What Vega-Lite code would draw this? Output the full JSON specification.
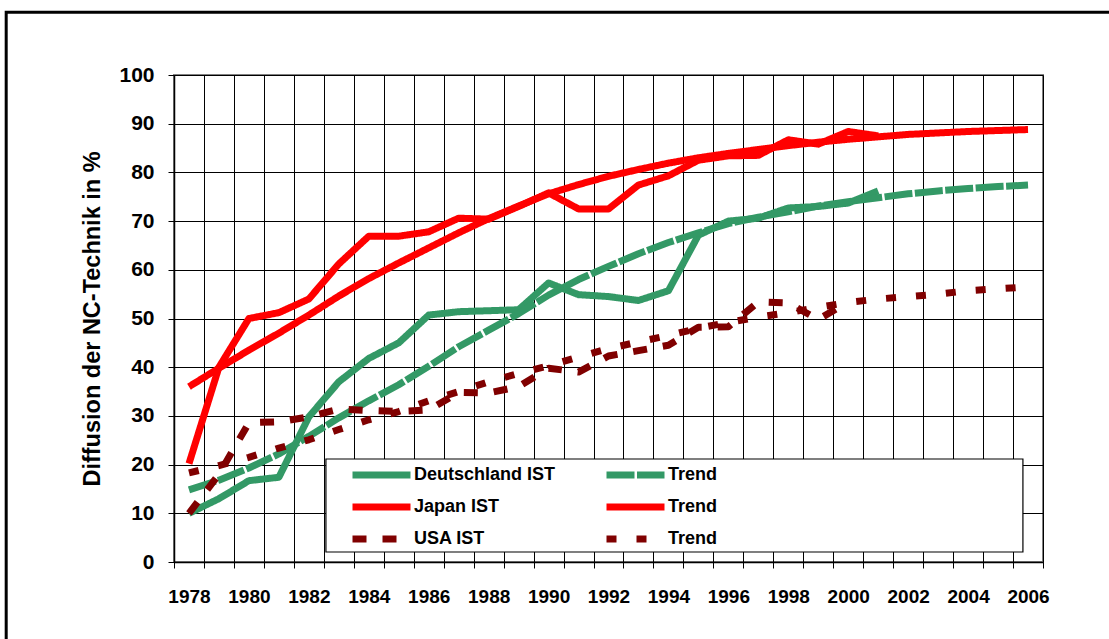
{
  "$schema": "https://vega.github.io/schema/vega-lite/v6.json",
  "width": 869,
  "height": 487,
  "autosize": {"type": "none"},
  "padding": {"left": 174, "top": 75, "right": 66, "bottom": 77},
  "background": "white",
  "config": {
    "view": {"stroke": "#808080", "strokeWidth": 2},
    "font": "Liberation Sans",
    "legend": {
      "orient": "none", "legendX": 175, "legendY": 382, "padding": 0,
      "columns": 2, "columnPadding": 36, "rowPadding": -1,
      "symbolType": "M-1,0H3", "symbolSize": 841,
      "labelFont": "Liberation Sans", "labelFontWeight": "bold", "labelFontSize": 18, "labelColor": "black",
      "labelOffset": 29, "labelLimit": 0
    }
  },
  "datasets": {
    "series": [
      {"year":1978,"series":"DE_IST","value":10},{"year":1979,"series":"DE_IST","value":13},{"year":1980,"series":"DE_IST","value":16.7},{"year":1981,"series":"DE_IST","value":17.4},{"year":1982,"series":"DE_IST","value":29.8},{"year":1983,"series":"DE_IST","value":37},{"year":1984,"series":"DE_IST","value":41.8},{"year":1985,"series":"DE_IST","value":45},{"year":1986,"series":"DE_IST","value":50.7},{"year":1987,"series":"DE_IST","value":51.4},{"year":1988,"series":"DE_IST","value":51.6},{"year":1989,"series":"DE_IST","value":51.8},{"year":1990,"series":"DE_IST","value":57.3},{"year":1991,"series":"DE_IST","value":54.9},{"year":1992,"series":"DE_IST","value":54.5},{"year":1993,"series":"DE_IST","value":53.7},{"year":1994,"series":"DE_IST","value":55.7},{"year":1995,"series":"DE_IST","value":67.1},{"year":1996,"series":"DE_IST","value":70},{"year":1997,"series":"DE_IST","value":70.6},{"year":1998,"series":"DE_IST","value":72.7},{"year":1999,"series":"DE_IST","value":73},{"year":2000,"series":"DE_IST","value":73.7},{"year":2001,"series":"DE_IST","value":76.2},
      {"year":1978,"series":"DE_Trend","value":14.8},{"year":1979,"series":"DE_Trend","value":16.8},{"year":1980,"series":"DE_Trend","value":19.3},{"year":1981,"series":"DE_Trend","value":22.2},{"year":1982,"series":"DE_Trend","value":25.8},{"year":1983,"series":"DE_Trend","value":29.6},{"year":1984,"series":"DE_Trend","value":33.1},{"year":1985,"series":"DE_Trend","value":36.4},{"year":1986,"series":"DE_Trend","value":40.2},{"year":1987,"series":"DE_Trend","value":44.2},{"year":1988,"series":"DE_Trend","value":47.6},{"year":1989,"series":"DE_Trend","value":51},{"year":1990,"series":"DE_Trend","value":54.8},{"year":1991,"series":"DE_Trend","value":58},{"year":1992,"series":"DE_Trend","value":60.7},{"year":1993,"series":"DE_Trend","value":63.3},{"year":1994,"series":"DE_Trend","value":65.6},{"year":1995,"series":"DE_Trend","value":67.6},{"year":1996,"series":"DE_Trend","value":69.5},{"year":1997,"series":"DE_Trend","value":70.8},{"year":1998,"series":"DE_Trend","value":71.9},{"year":1999,"series":"DE_Trend","value":73.1},{"year":2000,"series":"DE_Trend","value":74},{"year":2001,"series":"DE_Trend","value":74.8},{"year":2002,"series":"DE_Trend","value":75.6},{"year":2003,"series":"DE_Trend","value":76.2},{"year":2004,"series":"DE_Trend","value":76.7},{"year":2005,"series":"DE_Trend","value":77.1},{"year":2006,"series":"DE_Trend","value":77.4},
      {"year":1978,"series":"JP_IST","value":20.2},{"year":1979,"series":"JP_IST","value":40},{"year":1980,"series":"JP_IST","value":50},{"year":1981,"series":"JP_IST","value":51.2},{"year":1982,"series":"JP_IST","value":54},{"year":1983,"series":"JP_IST","value":61.2},{"year":1984,"series":"JP_IST","value":66.9},{"year":1985,"series":"JP_IST","value":66.9},{"year":1986,"series":"JP_IST","value":67.8},{"year":1987,"series":"JP_IST","value":70.6},{"year":1988,"series":"JP_IST","value":70.4},{"year":1989,"series":"JP_IST","value":73},{"year":1990,"series":"JP_IST","value":75.8},{"year":1991,"series":"JP_IST","value":72.5},{"year":1992,"series":"JP_IST","value":72.5},{"year":1993,"series":"JP_IST","value":77.4},{"year":1994,"series":"JP_IST","value":79.3},{"year":1995,"series":"JP_IST","value":82.5},{"year":1996,"series":"JP_IST","value":83.4},{"year":1997,"series":"JP_IST","value":83.5},{"year":1998,"series":"JP_IST","value":86.7},{"year":1999,"series":"JP_IST","value":85.8},{"year":2000,"series":"JP_IST","value":88.4},{"year":2001,"series":"JP_IST","value":87.5},
      {"year":1978,"series":"JP_Trend","value":36},{"year":1979,"series":"JP_Trend","value":39.8},{"year":1980,"series":"JP_Trend","value":43.5},{"year":1981,"series":"JP_Trend","value":47},{"year":1982,"series":"JP_Trend","value":50.7},{"year":1983,"series":"JP_Trend","value":54.6},{"year":1984,"series":"JP_Trend","value":58.2},{"year":1985,"series":"JP_Trend","value":61.4},{"year":1986,"series":"JP_Trend","value":64.5},{"year":1987,"series":"JP_Trend","value":67.6},{"year":1988,"series":"JP_Trend","value":70.5},{"year":1989,"series":"JP_Trend","value":73.1},{"year":1990,"series":"JP_Trend","value":75.6},{"year":1991,"series":"JP_Trend","value":77.5},{"year":1992,"series":"JP_Trend","value":79.2},{"year":1993,"series":"JP_Trend","value":80.6},{"year":1994,"series":"JP_Trend","value":81.9},{"year":1995,"series":"JP_Trend","value":83},{"year":1996,"series":"JP_Trend","value":83.9},{"year":1997,"series":"JP_Trend","value":84.7},{"year":1998,"series":"JP_Trend","value":85.5},{"year":1999,"series":"JP_Trend","value":86.2},{"year":2000,"series":"JP_Trend","value":86.8},{"year":2001,"series":"JP_Trend","value":87.3},{"year":2002,"series":"JP_Trend","value":87.8},{"year":2003,"series":"JP_Trend","value":88.1},{"year":2004,"series":"JP_Trend","value":88.4},{"year":2005,"series":"JP_Trend","value":88.6},{"year":2006,"series":"JP_Trend","value":88.8},
      {"year":1978,"series":"US_IST","value":10},{"year":1979,"series":"US_IST","value":18},{"year":1980,"series":"US_IST","value":28.6},{"year":1981,"series":"US_IST","value":28.8},{"year":1982,"series":"US_IST","value":29.8},{"year":1983,"series":"US_IST","value":31.4},{"year":1984,"series":"US_IST","value":31.1},{"year":1985,"series":"US_IST","value":30.9},{"year":1986,"series":"US_IST","value":31.2},{"year":1987,"series":"US_IST","value":34.8},{"year":1988,"series":"US_IST","value":34.7},{"year":1989,"series":"US_IST","value":36},{"year":1990,"series":"US_IST","value":39.8},{"year":1991,"series":"US_IST","value":39},{"year":1992,"series":"US_IST","value":42.3},{"year":1993,"series":"US_IST","value":43.4},{"year":1994,"series":"US_IST","value":44.5},{"year":1995,"series":"US_IST","value":48.2},{"year":1996,"series":"US_IST","value":48.3},{"year":1997,"series":"US_IST","value":53.4},{"year":1998,"series":"US_IST","value":53.2},{"year":1999,"series":"US_IST","value":49.8},{"year":2000,"series":"US_IST","value":53.4},
      {"year":1978,"series":"US_Trend","value":18.3},{"year":1979,"series":"US_Trend","value":19.8},{"year":1980,"series":"US_Trend","value":21.5},{"year":1981,"series":"US_Trend","value":23.4},{"year":1982,"series":"US_Trend","value":25.1},{"year":1983,"series":"US_Trend","value":27.2},{"year":1984,"series":"US_Trend","value":29.2},{"year":1985,"series":"US_Trend","value":30.9},{"year":1986,"series":"US_Trend","value":33.1},{"year":1987,"series":"US_Trend","value":35},{"year":1988,"series":"US_Trend","value":37},{"year":1989,"series":"US_Trend","value":38.7},{"year":1990,"series":"US_Trend","value":40.3},{"year":1991,"series":"US_Trend","value":42.1},{"year":1992,"series":"US_Trend","value":43.8},{"year":1993,"series":"US_Trend","value":45.2},{"year":1994,"series":"US_Trend","value":46.5},{"year":1995,"series":"US_Trend","value":48},{"year":1996,"series":"US_Trend","value":49.2},{"year":1997,"series":"US_Trend","value":50.3},{"year":1998,"series":"US_Trend","value":51.2},{"year":1999,"series":"US_Trend","value":52.3},{"year":2000,"series":"US_Trend","value":53.3},{"year":2001,"series":"US_Trend","value":54},{"year":2002,"series":"US_Trend","value":54.5},{"year":2003,"series":"US_Trend","value":55},{"year":2004,"series":"US_Trend","value":55.7},{"year":2005,"series":"US_Trend","value":56.1},{"year":2006,"series":"US_Trend","value":56.5}
    ],
    "frame": [{"k": 1}]
  },
  "layer": [
    {
      "data": {"name": "series"},
      "mark": {"type": "line", "strokeJoin": "round", "clip": true},
      "encoding": {
        "x": {
          "field": "year", "type": "quantitative",
          "scale": {"domain": [1977.5, 2006.5], "nice": false, "zero": false},
          "axis": {
            "title": null,
            "tickCount": 200, "tickMinStep": 0.5,
            "values": [1977.5,1978,1978.5,1979.5,1980,1980.5,1981.5,1982,1982.5,1983.5,1984,1984.5,1985.5,1986,1986.5,1987.5,1988,1988.5,1989.5,1990,1990.5,1991.5,1992,1992.5,1993.5,1994,1994.5,1995.5,1996,1996.5,1997.5,1998,1998.5,1999.5,2000,2000.5,2001.5,2002,2002.5,2003.5,2004,2004.5,2005.5,2006,2006.5],
            "labelExpr": "datum.value % 1 == 0 ? toString(datum.value) : ''",
            "labelOverlap": false, "labelFlush": false,
            "labelFont": "Liberation Sans", "labelFontWeight": "bold", "labelFontSize": 19, "labelColor": "black",
            "labelPadding": 19,
            "grid": true, "gridColor": "black", "gridWidth": 1,
            "gridOpacity": {"condition": {"test": "datum.value % 1 != 0", "value": 1}, "value": 0},
            "ticks": true, "tickColor": "black", "tickSize": 6, "tickWidth": 1,
            "tickOpacity": {"condition": {"test": "datum.value % 1 != 0", "value": 1}, "value": 0},
            "domainColor": "black", "domainWidth": 1.5
          }
        },
        "y": {
          "field": "value", "type": "quantitative",
          "scale": {"domain": [0, 100], "nice": false},
          "axis": {
            "title": "Diffusion der NC-Technik in %",
            "titleFont": "Liberation Sans", "titleFontWeight": "bold", "titleFontSize": 23.5, "titleColor": "black",
            "titlePadding": 14,
            "values": [0,10,20,30,40,50,60,70,80,90,100],
            "labelFont": "Liberation Sans", "labelFontWeight": "bold", "labelFontSize": 21, "labelColor": "black",
            "labelPadding": 14,
            "grid": true, "gridColor": "black", "gridWidth": 1,
            "tickColor": "black", "tickSize": 6,
            "domainColor": "black", "domainWidth": 1.5
          }
        },
        "color": {
          "field": "series", "type": "ordinal",
          "scale": {"domain": ["DE_IST","JP_IST","US_IST","DE_Trend","JP_Trend","US_Trend"], "range": ["#339966","#FF0000","#800000","#339966","#FF0000","#800000"]},
          "legend": {
            "title": null,
            "labelExpr": "{'DE_IST':'Deutschland IST','DE_Trend':'Trend','JP_IST':'Japan IST','JP_Trend':'Trend','US_IST':'USA IST','US_Trend':'Trend'}[datum.value]"
          }
        },
        "strokeDash": {
          "field": "series", "type": "ordinal",
          "scale": {"domain": ["DE_IST","JP_IST","US_IST","DE_Trend","JP_Trend","US_Trend"], "range": [[1,0],[1,0],[14,16],[28,2.5],[1,0],[10,20]]},
          "legend": {
            "title": null,
            "labelExpr": "{'DE_IST':'Deutschland IST','DE_Trend':'Trend','JP_IST':'Japan IST','JP_Trend':'Trend','US_IST':'USA IST','US_Trend':'Trend'}[datum.value]"
          }
        },
        "strokeWidth": {
          "field": "series", "type": "ordinal",
          "scale": {"domain": ["DE_IST","JP_IST","US_IST","DE_Trend","JP_Trend","US_Trend"], "range": [7,7,7,5,4,5]},
          "legend": {
            "title": null,
            "labelExpr": "{'DE_IST':'Deutschland IST','DE_Trend':'Trend','JP_IST':'Japan IST','JP_Trend':'Trend','US_IST':'USA IST','US_Trend':'Trend'}[datum.value]"
          }
        }
      }
    },
    {
      "data": {"name": "frame"},
      "mark": {"type": "rect", "fill": "white", "stroke": "black", "strokeWidth": 1.2, "clip": false},
      "encoding": {
        "x": {"datum": 1982.57, "type": "quantitative"},
        "x2": {"datum": 2005.83},
        "y": {"datum": 21.15, "type": "quantitative"},
        "y2": {"datum": 2.05}
      }
    },
    {
      "data": {"name": "frame"},
      "mark": {"type": "rect", "filled": false, "stroke": "black", "strokeWidth": 3, "clip": false},
      "encoding": {
        "x": {"datum": 1971.9, "type": "quantitative"},
        "x2": {"datum": 2012},
        "y": {"datum": 112.9, "type": "quantitative"},
        "y2": {"datum": -25}
      }
    }
  ]
}
